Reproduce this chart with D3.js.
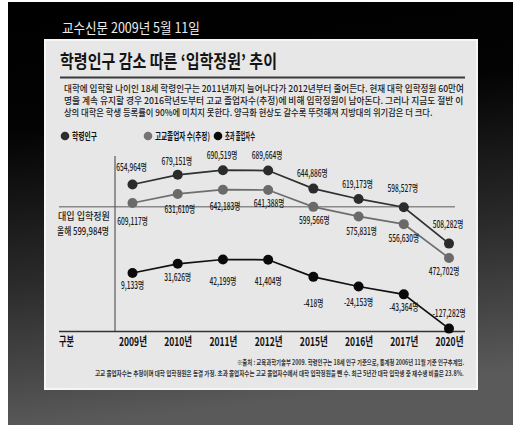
<!DOCTYPE html>
<html>
<head>
<meta charset="utf-8">
<script src="https://cdn.jsdelivr.net/npm/d3@7"></script>
<style>
  html, body { margin: 0; padding: 0; background: #fff; }
  svg { display: block; }
  text { font-family: "Noto Sans CJK KR", "Noto Sans", sans-serif; }
</style>
</head>
<body>
<script>
// Categories and series
const years = ["2009년", "2010년", "2011년", "2012년", "2015년", "2016년", "2017년", "2020년"];
const schoolAgePop = [654964, 679151, 690519, 689664, 644886, 619173, 598527, 508282];   // 학령인구
const graduates = [609117, 631610, 642183, 641388, 599566, 575831, 556630, 472702];      // 고교졸업자 수(추정)
const excessGrads = [9133, 31626, 42199, 41404, -418, -24153, -43364, -127282];           // 초과 졸업자수
const quota = 599984;                                                                       // 대입 입학정원

const seriesNames = ["학령인구", "고교졸업자 수(추정)", "초과 졸업자수"];
const paragraph = [
  "대학에 입학할 나이인 18세 학령인구는 2011년까지 늘어나다가 2012년부터 줄어든다. 현재 대학 입학정원 60만여",
  "명을 계속 유지할 경우 2016학년도부터 고교 졸업자수(추정)에 비해 입학정원이 남아돈다. 그러나 지금도 절반 이",
  "상의 대학은 학생 등록률이 90%에 미치지 못한다. 양극화 현상도 갈수록 뚜렷해져 지방대의 위기감은 더 크다."
];
const notes = [
  "※출처 : 교육과학기술부 2009. 학령인구는 18세 인구 기준으로, 통계청 2006년 11월 기준 인구추계임.",
  "고교 졸업자수는 추정이며 대학 입학정원은 동결 가정. 초과 졸업자수는 고교 졸업자수에서 대학 입학정원을 뺀 수. 최근 5년간 대학 입학생 중 재수생 비율은 23.8%."
];

// Label nudges (px from each dot)
const popLabelDy = [-17, -13, -15, -15, -15, -14, -19, -19];
const gradLabelDy = [18, 16, 17, 13, 14, 15, 14, 14];
const gradLabelDx = [0, 2, 2, 1, 1, 3, 0, -5];
const excessLabelDy = [13, 14, 22, 22, 27, 16, 13, -15];

const W = 513, H = 425;
const svg = d3.select("body").append("svg").attr("width", W).attr("height", H);

// Narrow newspaper lettering: squeeze a text horizontally to a given width
function squeezed(parent, str, x, y, width, attrs) {
  const t = parent.append("text").text(str);
  Object.entries(attrs || {}).forEach(([k, v]) => t.attr(k, v));
  const natural = t.node().getComputedTextLength();
  t.attr("transform", `translate(${x},${y}) scale(${width / natural},1)`);
  return t;
}

// Dark backdrop
const defs = svg.append("defs");
const bg = defs.append("linearGradient").attr("id", "bg").attr("x1", 0).attr("y1", 0).attr("x2", 0.15).attr("y2", 1);
bg.append("stop").attr("offset", 0).attr("stop-color", "#000");
bg.append("stop").attr("offset", 0.3).attr("stop-color", "#030303");
bg.append("stop").attr("offset", 0.65).attr("stop-color", "#2a2a2a");
bg.append("stop").attr("offset", 1).attr("stop-color", "#5a5a5a");
svg.append("rect").attr("x", 8).attr("y", 2).attr("width", W - 8).attr("height", H - 2).attr("fill", "url(#bg)");

// Date line
squeezed(svg, "교수신문 2009년 5월 11일", 62, 33, 138, { "font-size": 14, fill: "#ececec" });

// Card
svg.append("rect").attr("x", 45).attr("y", 40).attr("width", 432).attr("height", 349)
  .attr("fill", "#e7e7e7").attr("stroke", "#f6f6f6").attr("stroke-width", 2);

// Title and rule
squeezed(svg, "학령인구 감소 따른 ‘입학정원’ 추이", 60, 68, 217,
  { "font-size": 18, "font-weight": 700, fill: "#141414" });
svg.append("line").attr("x1", 60).attr("x2", 465).attr("y1", 77.5).attr("y2", 77.5)
  .attr("stroke", "#3a3a3a").attr("stroke-width", 2);

// Intro paragraph
const paraWidths = [400, 400, 369];
paragraph.forEach((line, i) =>
  squeezed(svg, line, 64, 91.5 + i * 12.2, paraWidths[i],
    { "font-size": 9.5, "font-weight": 500, fill: "#1c1c1c" }));

// Legend
const legendColors = ["#2e2e2e", "#747474", "#0b0b0b"];
const legendX = [65, 148, 218];
const legendW = [25, 55, 30];
seriesNames.forEach((name, i) => {
  svg.append("circle").attr("cx", legendX[i]).attr("cy", 136).attr("r", 4.3).attr("fill", legendColors[i]);
  squeezed(svg, name, legendX[i] + 7, 139.5, legendW[i],
    { "font-size": 10, "font-weight": 700, fill: "#111" });
});

// Scales
const x = d3.scalePoint().domain(years).range([132.5, 449]);
const yMain = d3.scaleLinear().domain([450000, 700000]).range([267.1, 166.4]);
const yExcess = d3.scaleLinear().domain([-130000, 50000]).range([329.7, 256.3]);
const fmt = d3.format(",");

// Quota reference line
svg.append("line").attr("x1", 59).attr("x2", 455)
  .attr("y1", yMain(quota)).attr("y2", yMain(quota))
  .attr("stroke", "#8a8a8a").attr("stroke-width", 1.5);
const qAttrs = { "font-size": 10, "font-weight": 500, fill: "#1c1c1c" };
squeezed(svg, "대입 입학정원", 58, 219.5, 52, qAttrs);
squeezed(svg, `올해 ${fmt(quota)}명`, 57, 234.5, 52, qAttrs);

// Frame: divider and baseline
svg.append("line").attr("x1", 115).attr("x2", 115).attr("y1", 156).attr("y2", 331.5)
  .attr("stroke", "#5a5a5a").attr("stroke-width", 1.2);
svg.append("line").attr("x1", 59).attr("x2", 465).attr("y1", 331.5).attr("y2", 331.5)
  .attr("stroke", "#333").attr("stroke-width", 1.5);

// X axis (category labels under baseline)
const xAxis = d3.axisBottom(x).tickSize(0).tickPadding(0);
const axisG = svg.append("g").attr("transform", "translate(0,346)").call(xAxis);
axisG.select(".domain").remove();
axisG.selectAll(".tick text")
  .attr("y", 0).attr("dy", 0)
  .attr("font-size", 12).attr("font-weight", 700).attr("fill", "#111")
  .attr("font-family", "\"Noto Sans CJK KR\", sans-serif")
  .each(function () {
    const n = this.getComputedTextLength();
    d3.select(this).attr("transform", `scale(${28 / n},1)`);
  });
squeezed(svg, "구분", 59, 346, 15, { "font-size": 12, "font-weight": 700, fill: "#111" });

// Series
const series = [
  { values: schoolAgePop, y: yMain, line: "#303030", dot: "#2b2b2b", dy: popLabelDy, dx: years.map(() => -1) },
  { values: graduates, y: yMain, line: "#6e6e6e", dot: "#6a6a6a", dy: gradLabelDy, dx: gradLabelDx },
  { values: excessGrads, y: yExcess, line: "#111", dot: "#0a0a0a", dy: excessLabelDy, dx: years.map(() => 0) }
];

series.forEach(s => {
  const pts = s.values.map((v, i) => ({ year: years[i], v, i }));
  const line = d3.line().x(d => x(d.year)).y(d => s.y(d.v));
  svg.append("path").datum(pts).attr("d", line)
    .attr("fill", "none").attr("stroke", s.line).attr("stroke-width", 1.7);
  svg.append("g").selectAll("circle").data(pts).join("circle")
    .attr("cx", d => x(d.year)).attr("cy", d => s.y(d.v)).attr("r", 5)
    .attr("fill", s.dot);
  svg.append("g").selectAll("text").data(pts).join("text")
    .attr("transform", d => `translate(${x(d.year) + s.dx[d.i]},${s.y(d.v) + s.dy[d.i] + 3.5}) scale(0.66,1)`)
    .attr("text-anchor", "middle")
    .attr("font-size", 10).attr("font-weight", 500).attr("fill", "#1a1a1a")
    .text(d => `${fmt(d.v).replace("−", "-")}명`);
});

// Source notes
const nAttrs = { "font-size": 7, "font-weight": 700, fill: "#333" };
squeezed(svg, notes[0], 237, 365, 228, nAttrs);
squeezed(svg, notes[1], 95, 375.5, 370, nAttrs);
</script>
</body>
</html>
